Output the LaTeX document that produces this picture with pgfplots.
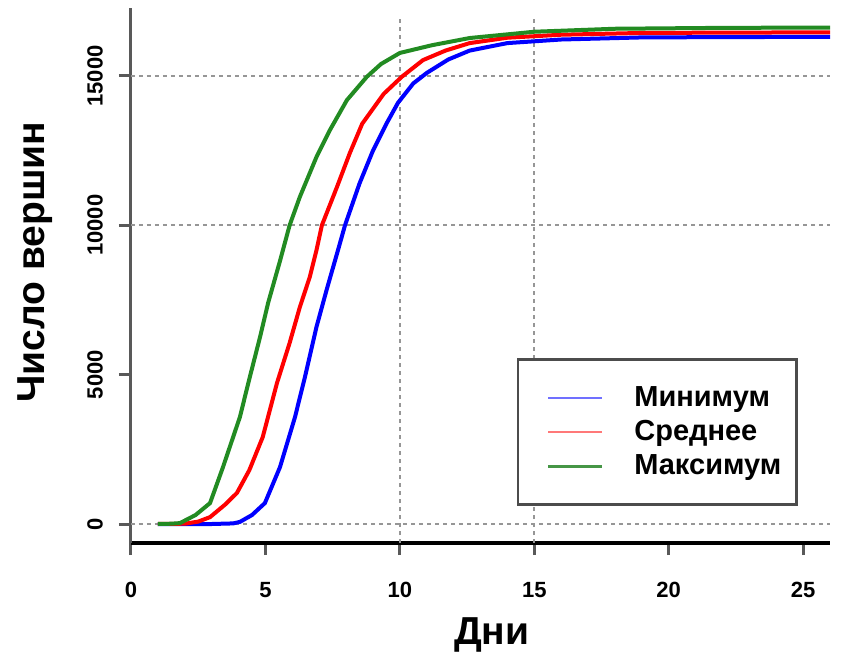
\documentclass[border=0pt]{standalone}
\usepackage{pgfplots}
\pgfplotsset{compat=1.18}
\usepackage{fontspec}
\setmainfont{Liberation Sans}
\definecolor{rblue}{RGB}{0,0,255}
\definecolor{rred}{RGB}{255,0,0}
\definecolor{rgreen}{RGB}{34,139,34}
\definecolor{gridgray}{RGB}{150,150,150}
\begin{document}
\begin{tikzpicture}
\begin{axis}[
  scale only axis, width=349.5pt, height=267.5pt,
  xmin=0, xmax=26, ymin=-636, ymax=17275,
  axis x line*=bottom, axis y line*=left,
  x axis line style={line width=1.7pt, black, -},
  y axis line style={line width=1.5pt, black!65, -},
  xtick={0,5,10,15,20,25}, ytick={0,5000,10000,15000},
  tick align=outside, major tick length=6pt,
  tick style={line width=1.5pt, black!65},
  scaled y ticks=false,
  /pgf/number format/1000 sep={},
  /pgf/number format/assume math mode=true,
  ticklabel style={font=\fontsize{11}{13}\selectfont\bfseries},
  yticklabel style={rotate=90, anchor=south, yshift=4.5pt},
  xticklabel style={anchor=center, yshift=-17.5pt},
  xlabel={Дни}, ylabel={Число вершин},
  label style={font=\fontsize{19.5}{22}\selectfont\bfseries},
  xlabel style={at={(axis description cs:0.516,-0.172)}, anchor=center},
  ylabel style={at={(axis description cs:-0.137,0.525)}, anchor=center, rotate=0},
  legend cell align=left,
  legend image code/.code={\path[draw=none] (-7.5pt,0pt) -- (0pt,0pt); \draw[#1, line width=1.2pt] (0pt,0pt) -- (27pt,0pt);},
  legend style={at={(0.552,0.069)}, anchor=south west, draw=black!70, line width=1.3pt,
    inner xsep=7.5pt, inner ysep=12.5pt, row sep=3.5pt,
    font=\fontsize{14.5}{16}\selectfont\bfseries,
    nodes={inner xsep=0pt, inner ysep=1pt},
    /tikz/every odd column/.append style={column sep=15.5pt}},
]
\draw[gridgray, line width=1pt, dash pattern=on 2pt off 2pt] (axis cs:0,0) -- (axis cs:26,0);
\draw[gridgray, line width=1pt, dash pattern=on 2pt off 2pt] (axis cs:0,10000) -- (axis cs:26,10000);
\draw[gridgray, line width=1pt, dash pattern=on 2pt off 2pt] (axis cs:0,15000) -- (axis cs:26,15000);
\draw[gridgray, line width=1pt, dash pattern=on 2pt off 2pt] (axis cs:10,-636) -- (axis cs:10,16900);
\draw[gridgray, line width=1pt, dash pattern=on 2pt off 2pt] (axis cs:15,-636) -- (axis cs:15,17000);

% Минимум
\addplot[rblue, line width=2pt, forget plot] coordinates {
(1,0)(3,0)(3.8,20)(4.05,70)(4.5,300)(4.98,700)(5.54,1900)(6.1,3580)(6.47,4920)
(6.9,6600)(7.28,7850)(7.7,9170)(7.96,10000)(8.5,11400)(9,12500)(9.5,13400)
(9.93,14100)(10.5,14750)(11,15100)(11.8,15550)(12.6,15850)(14,16100)(16,16220)
(19,16290)(22,16300)(26,16310)};
% Среднее
\addplot[rred, line width=2pt, forget plot] coordinates {
(1,0)(2,10)(2.5,80)(2.94,230)(3.5,650)(3.94,1040)(4.4,1800)(4.9,2910)(5.43,4720)
(5.9,6060)(6.28,7260)(6.65,8270)(6.9,9170)(7.1,10000)(7.66,11280)(8.14,12420)
(8.6,13400)(9.4,14400)(10.07,14970)(10.86,15530)(11.7,15850)(12.6,16100)(14,16280)
(16,16380)(19,16440)(22,16450)(26,16460)};
% Максимум
\addplot[rgreen, line width=2pt, forget plot] coordinates {
(1,0)(1.5,10)(1.82,30)(2.4,300)(2.94,700)(3.42,1900)(4.05,3580)(4.42,4920)(4.8,6260)
(5.1,7400)(5.54,8800)(5.9,10000)(6.28,10950)(6.9,12290)(7.4,13190)(8.03,14190)
(8.77,14970)(9.3,15400)(10,15770)(11.2,16030)(12.6,16270)(15,16480)(18,16580)
(22,16610)(26,16620)};

\addlegendimage{color={rgb,255:red,112;green,112;blue,255}}
\addlegendentry{Минимум}
\addlegendimage{color={rgb,255:red,255;green,120;blue,120}}
\addlegendentry{Среднее}
\addlegendimage{color={rgb,255:red,70;green,150;blue,70}}
\addlegendentry{Максимум}
\end{axis}
\path (-65.5pt,-62.5pt) rectangle (356.5pt,271.5pt);
\end{tikzpicture}
\end{document}
